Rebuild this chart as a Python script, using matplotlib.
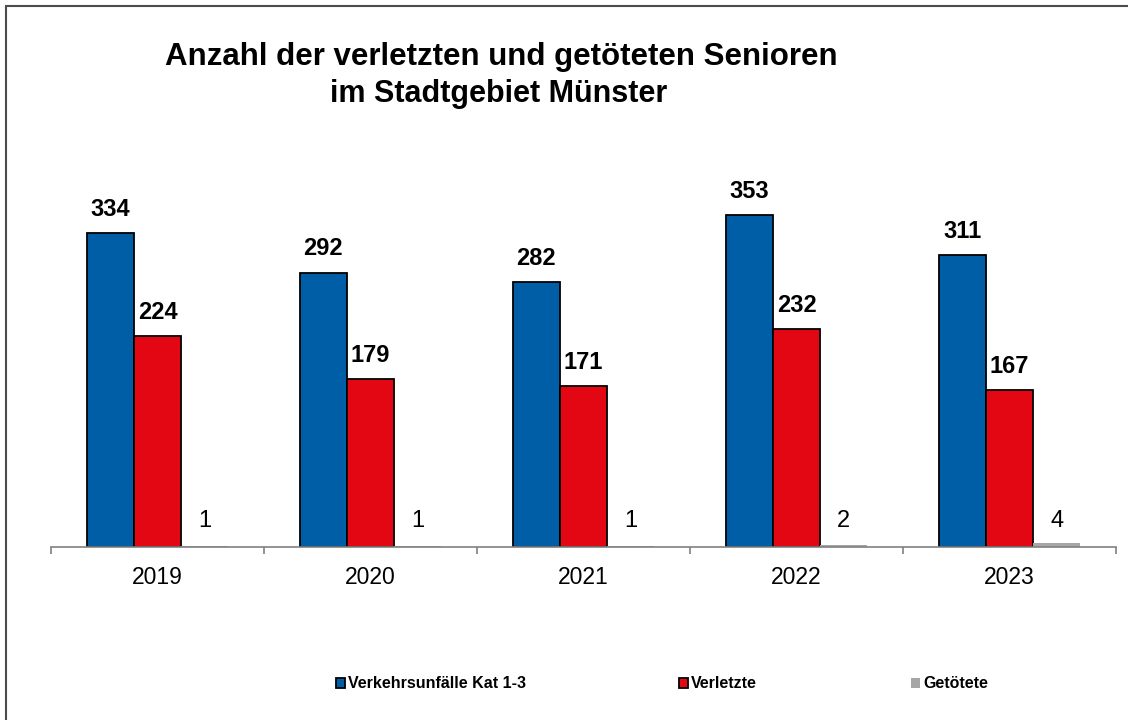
import matplotlib
matplotlib.use("Agg")
import matplotlib.pyplot as plt
from matplotlib.patches import Rectangle, Patch
import numpy as np

plt.rcParams['font.family'] = ['Liberation Sans', 'DejaVu Sans']

years = ["2019", "2020", "2021", "2022", "2023"]
unfaelle = [334, 292, 282, 353, 311]
verletzte = [224, 179, 171, 232, 167]
getoetete = [1, 1, 1, 2, 4]
series_names = ["Verkehrsunfälle Kat 1-3", "Verletzte", "Getötete"]

c_blue = "#005EA6"
c_red = "#E30613"
c_gray = "#A6A6A6"

W, H = 1128, 720
fig = plt.figure(figsize=(W / 100, H / 100), dpi=100)

# outer frame
fig.patches.append(Rectangle((6 / W, -0.1), 1.2, (H - 6) / H + 0.1, transform=fig.transFigure,
                             fill=False, edgecolor="#4d4d4d", linewidth=1.5))

ax_left, ax_right, ax_bottom, ax_top = 51, 1116, 547, 171
ax = fig.add_axes([ax_left / W, (H - ax_bottom) / H, (ax_right - ax_left) / W, (ax_bottom - ax_top) / H])

x = np.arange(len(years))
bw = 0.222
ax.bar(x - bw, unfaelle, bw, color=c_blue, edgecolor="black", linewidth=1.3)
ax.bar(x, verletzte, bw, color=c_red, edgecolor="black", linewidth=1.3)
ax.bar(x + bw, getoetete, bw, color=c_gray, edgecolor="none")

ax.set_xlim(-0.5, len(years) - 0.5)
ax.set_ylim(0, 400)

for xi, v in zip(x - bw, unfaelle):
    ax.annotate(str(v), (xi, v), xytext=(0, 12.3), textcoords="offset points",
                ha="center", va="baseline", fontsize=17, fontweight="bold")
for xi, v in zip(x, verletzte):
    ax.annotate(str(v), (xi, v), xytext=(0, 12.3), textcoords="offset points",
                ha="center", va="baseline", fontsize=17, fontweight="bold")
for xi, v in zip(x + bw, getoetete):
    ax.annotate(str(v), (xi, 0), xytext=(0, 14.4), textcoords="offset points",
                ha="center", va="baseline", fontsize=17)

for s in ["top", "right", "left"]:
    ax.spines[s].set_visible(False)
ax.spines["bottom"].set_color("#808080")
ax.spines["bottom"].set_linewidth(1.2)
ax.set_yticks([])
ax.set_xticks(np.arange(-0.5, len(years), 1.0))
ax.set_xticklabels([])
ax.tick_params(axis="x", which="major", length=5, color="#808080", width=1.2, direction="out")
ax.set_xticks(x, minor=True)
ax.set_xticklabels(years, minor=True, fontsize=16.5)
ax.tick_params(axis="x", which="minor", length=0, pad=13.5)

fig.text(501 / W, 1 - 65 / H, "Anzahl der verletzten und getöteten Senioren",
         ha="center", va="baseline", fontsize=22.5, fontweight="bold")
fig.text(499 / W, 1 - 102 / H, "im Stadtgebiet Münster",
         ha="center", va="baseline", fontsize=22, fontweight="bold")

# legends
handles = [Patch(facecolor=c_blue, edgecolor="black", linewidth=1.3),
           Patch(facecolor=c_red, edgecolor="black", linewidth=1.3),
           Patch(facecolor=c_gray, edgecolor="none")]
leg_x = [336, 679, 911]
for h, name, lx in zip(handles, series_names, leg_x):
    fig.legend([h], [name], loc="center left", bbox_to_anchor=(lx / W, 1 - 684 / H),
               frameon=False, prop={"size": 11.5, "weight": "bold"},
               handlelength=0.55, handleheight=0.55, handletextpad=0.2,
               borderpad=0, borderaxespad=0)

fig.savefig("out.png", dpi=100)
